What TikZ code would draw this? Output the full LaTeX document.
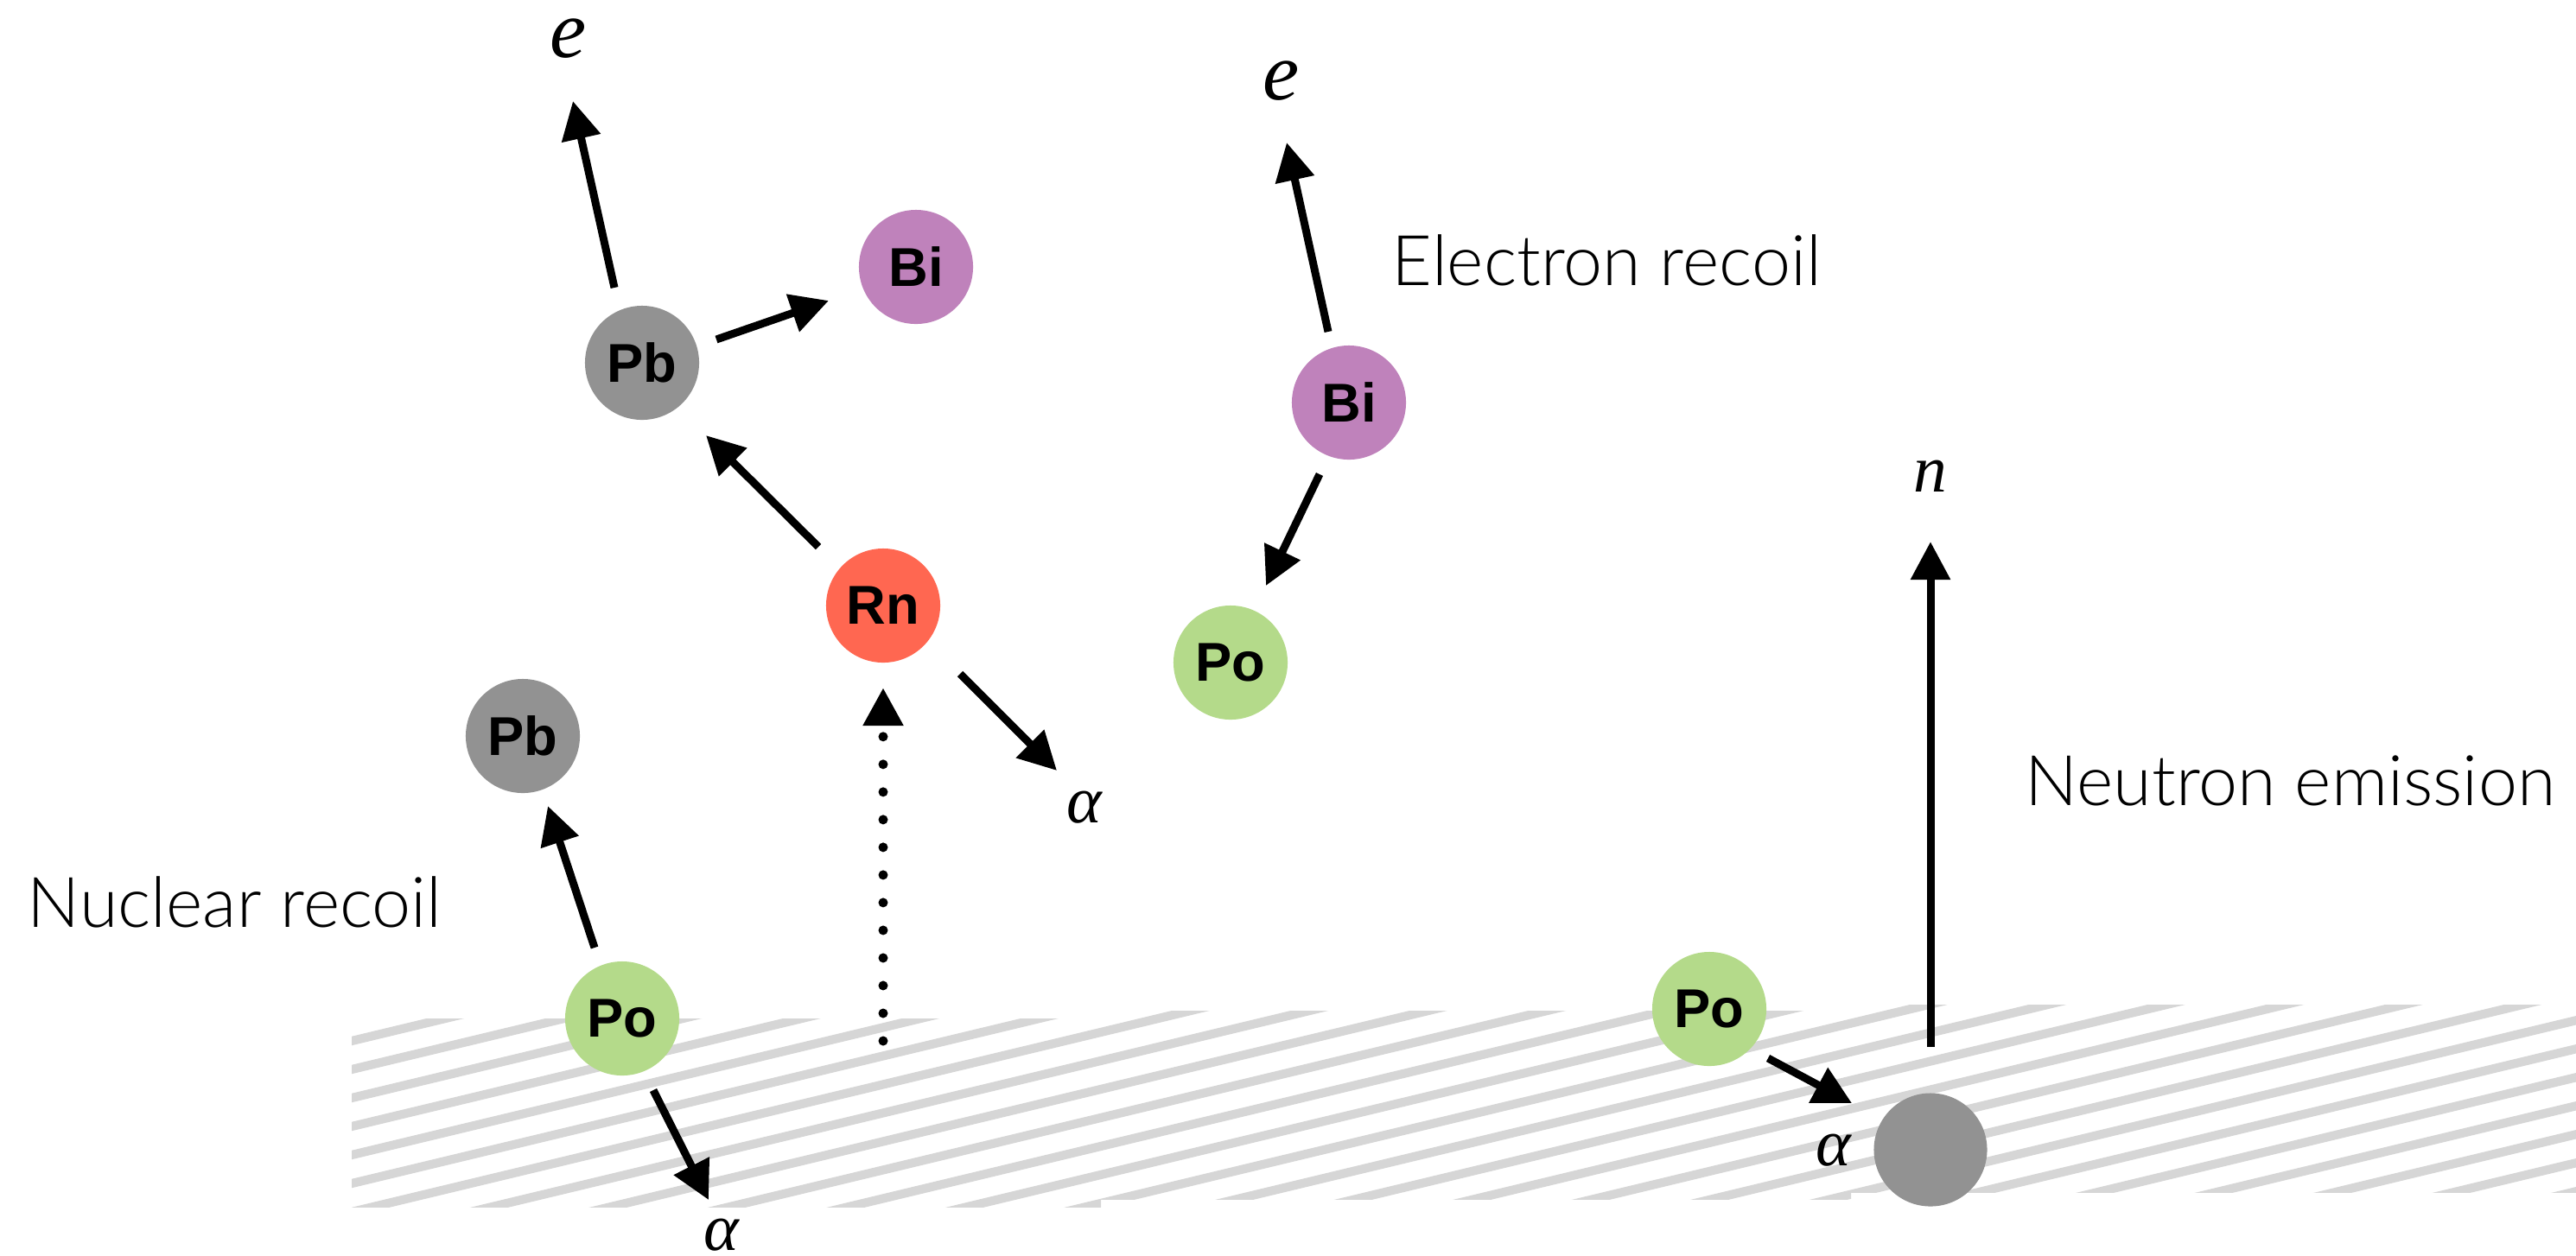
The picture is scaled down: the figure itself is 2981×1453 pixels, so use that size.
\documentclass[tikz,border=0pt]{standalone}
\usepackage{fontspec}
\setmainfont{Liberation Sans}
\newfontfamily\lightfont{Lato Light}
\newfontfamily\serifit{Liberation Serif}
\usetikzlibrary{arrows.meta}
\definecolor{hatchgray}{RGB}{214,214,214}
\definecolor{pbgray}{RGB}{146,146,146}
\definecolor{bipurple}{RGB}{191,130,187}
\definecolor{rnred}{RGB}{255,103,81}
\definecolor{pogreen}{RGB}{180,218,138}
\tikzset{
  atom/.style={circle, minimum size=1.32cm, inner sep=0pt, draw=none,
    font=\fontsize{18}{20}\selectfont\bfseries},
  pbatom/.style={atom, fill=pbgray},
  biatom/.style={atom, fill=bipurple},
  rnatom/.style={atom, fill=rnred},
  poatom/.style={atom, fill=pogreen},
  decay/.style={line width=0.09cm, -{Triangle[length=0.44cm, width=0.44cm]}},
  dotarrow/.style={line width=0.11cm, line cap=round, dash pattern=on 0pt off 0.32cm,
    -{Triangle[length=0.44cm, width=0.44cm]}},
  particle/.style={inner sep=0pt, font=\fontsize{22}{24}\selectfont\serifit\itshape},
  eparticle/.style={inner sep=0pt, font=\fontsize{27}{29}\selectfont\serifit\itshape},
  caption/.style={inner sep=0pt, anchor=base west, font=\fontsize{23}{26}\selectfont\lightfont},
  hatch/.style={line width=0.102cm, draw=hatchgray}
}
\begin{document}
\begin{tikzpicture}[x=0.01cm, y=-0.01cm]
\useasboundingbox (0,0) rectangle (2981,1453);
% hatched ground, three slightly offset tiles
\foreach \xa/\xb/\ya/\yb in {407/1274/1179/1397, 1274/2142/1170/1388, 2142/2981/1163/1380}{
  \begin{scope}
    \clip (\xa,\ya) rectangle (\xb,\yb);
    \foreach \k in {-3,...,27}{
      \draw[hatch] (300,{1205+33*\k+0.24*107}) -- (3000,{1205+33*\k-0.24*2593});
    }
  \end{scope}
}
% atoms
\node[pbatom] (pbA) at (743,420) {Pb};
\node[biatom] (biA) at (1060,309) {Bi};
\node[rnatom] (rn) at (1022,701) {Rn};
\node[biatom] (biB) at (1561,466) {Bi};
\node[poatom] (poB) at (1424,767) {Po};
\node[pbatom] (pbC) at (605,852) {Pb};
\node[poatom] (poC) at (720,1179) {Po};
\node[poatom] (poA) at (1978,1168) {Po};
\node[circle, minimum size=1.31cm, inner sep=0pt, fill=pbgray] (nuc) at (2234,1331) {};
% particle labels
\node[eparticle] (eA) at (658,45) {e};
\node[eparticle] (eB) at (1483,94) {e};
\node[particle] (aRn) at (1255,935) {α};
\node[particle] (aPoC) at (835,1430) {α};
\node[particle] (aPoA) at (2122,1332) {α};
\node[particle] (nN) at (2234,551) {n};
% captions
\node[caption] (cap1) at (31,1073) {Nuclear recoil};
\node[caption] (cap2) at (1610,330) {Electron recoil};
\node[caption] (cap3) at (2343,932) {Neutron emission};
% arrow end points
\coordinate (s1) at (711,333);  \coordinate (t1) at (663,117);
\coordinate (s2) at (829,393);  \coordinate (t2) at (959,348);
\coordinate (s3) at (947,633);  \coordinate (t3) at (817,504);
\coordinate (s4) at (1111,780); \coordinate (t4) at (1223,892);
\coordinate (s5) at (1022,1205);\coordinate (t5) at (1022,796);
\coordinate (s6) at (1537,384); \coordinate (t6) at (1489,165);
\coordinate (s7) at (1527,549); \coordinate (t7) at (1465,678);
\coordinate (s8) at (688,1097); \coordinate (t8) at (634,933);
\coordinate (s9) at (756,1262); \coordinate (t9) at (820,1389);
\coordinate (s10) at (2046,1225); \coordinate (t10) at (2143,1277);
\coordinate (s11) at (2234,1212); \coordinate (t11) at (2234,627);
% arrows
\foreach \i in {1,2,3,4,6,7,8,9,10,11}{
  \draw[decay] (s\i) -- (t\i);
}
\draw[dotarrow] (s5) -- (t5);
\end{tikzpicture}
\end{document}
